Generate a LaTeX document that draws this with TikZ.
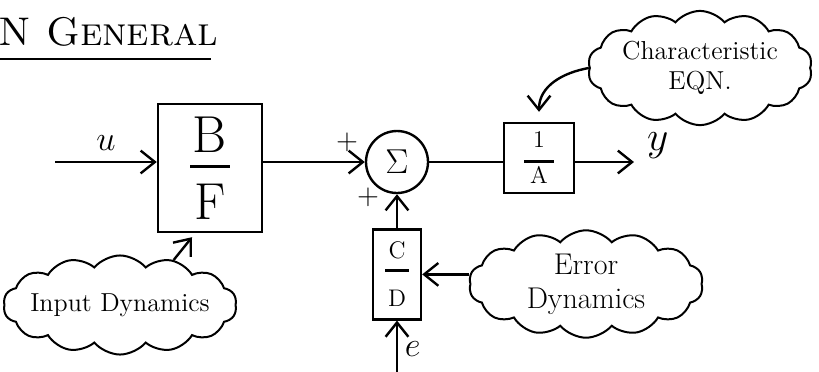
\documentclass[tikz,border=0pt]{standalone}
\usepackage{tikz}
\usetikzlibrary{positioning, shapes.symbols, arrows.meta}

% numerator, bar, denominator stacked in a block
\newcommand{\blockfrac}[4]{#1\\\rule[#4]{#3}{1.3pt}\\#2}

\begin{document}
\begin{tikzpicture}[x=0.5pt, y=-0.5pt, node distance=17pt]
    % Define styles
    \tikzset{
        every node/.style={font=\fontsize{13}{15}\selectfont},
        block/.style={rectangle, draw, very thick, align=center, inner sep=0pt},
        sum/.style={circle, draw, very thick, minimum size=31pt, inner sep=0pt, font=\fontsize{16}{18}\selectfont},
        note/.style={cloud, draw, line width=1pt, cloud puffs=14, cloud puff arc=100, align=center, inner sep=0pt},
        arrow/.style={-{Straight Barb[length=2.5mm, width=4mm]}, very thick},
        sign/.style={font=\fontsize{14}{16}\selectfont}
    }

    \useasboundingbox (0,0) rectangle (819,371);

    % Title
    \node (title) [anchor=west, inner sep=1pt, font=\fontsize{20}{22}\selectfont] at (-4,32) {\textsc{N General}};
    \draw [very thick] ([yshift=-5pt]title.south west) -- ([yshift=-5pt, xshift=-5pt]title.south east);

    % Blocks and summing junction
    \node (bf) [block, minimum width=52pt, minimum height=64pt, font=\fontsize{26}{15}\selectfont] at (210,168) {\blockfrac{B}{F}{20pt}{7pt}};
    \node (sum) [sum] at (397,162) {$\Sigma$};
    \node (av) [block, minimum width=35pt, minimum height=35pt, font=\fontsize{12}{9}\selectfont] at (539,158) {\blockfrac{1}{A}{15pt}{1.5pt}};
    \node (cd) [block, minimum width=24pt, minimum height=45pt, below=of sum, font=\fontsize{12}{12}\selectfont] {\blockfrac{C}{D}{12pt}{5.5pt}};

    % Clouds
    \node (charc) [note, aspect=2.35] at (700,68) {Characteristic\\EQN.};
    \node (inp) [note, aspect=3.0, inner xsep=-4pt] at (120,305) {Input Dynamics};
    \node (err) [note, aspect=2.7, inner xsep=3pt, font=\fontsize{15}{17}\selectfont] at (586,284) {Error\\Dynamics};

    % Signs
    \node (p1) [sign] at (347,142) {$+$};
    \node (p2) [sign] at (368,197) {$+$};

    % Connectors
    \coordinate (uin) at (55,162);
    \draw [arrow] (uin) -- (uin -| bf.west) node[midway, above=2pt, font=\fontsize{18}{20}\selectfont] {$u$};
    \draw [arrow] (sum -| bf.east) -- (sum.west);
    \draw [very thick] (sum.east) -- (sum -| av.west);
    \coordinate (ytip) at (634,162);
    \draw [arrow] (sum -| av.east) -- (ytip);
    \node (y) [right=3pt of ytip, yshift=8pt, font=\fontsize{21}{23}\selectfont] {$y$};
    \draw [arrow] (cd.north) -- (sum.south);
    \path (cd.south) ++(0,51) coordinate (ein);
    \draw [arrow] (ein) -- (cd.south) node[pos=0.45, right, font=\fontsize{16}{18}\selectfont] {$e$};
    \draw [arrow] (charc.west) to[out=190, in=90] ([yshift=5pt]av.north);
    \draw [arrow] (inp.40) -- ([xshift=-9pt, yshift=-2pt]bf.south);
    \draw [arrow] (cd.east -| err.west) -- (cd.east);

\end{tikzpicture}
\end{document}
